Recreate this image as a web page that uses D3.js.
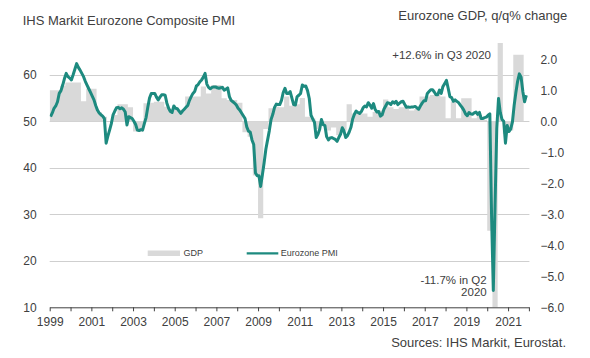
<!DOCTYPE html>
<html><head><meta charset="utf-8">
<script src="https://cdn.jsdelivr.net/npm/d3@7/dist/d3.min.js"></script>
<style>
body{margin:0;background:#fff}
svg{display:block}
text{font-family:Arial,"Liberation Sans",sans-serif;fill:#404040}
</style>
</head><body>
<svg id="chart" width="590" height="358"></svg>
<script>
// Eurozone Composite PMI, monthly, Jan 1999 .. Nov 2021
const pmiStartYear = 1999;
const pmi = [
  51.0, 51.8, 52.8, 53.3, 54.2, 56.0, 56.6, 57.8, 59.2, 60.3, 59.6, 59.3, // 1999
  58.9, 60.0, 61.2, 62.4, 61.6, 61.0, 60.3, 59.6, 58.6, 57.8, 57.0, 56.2, // 2000
  55.4, 54.6, 53.4, 52.4, 51.8, 51.4, 51.1, 50.6, 45.3, 46.8, 48.1, 49.5, // 2001
  51.4, 52.2, 52.9, 53.0, 52.7, 52.9, 52.6, 52.0, 49.2, 51.0, 50.8, 50.6, // 2002
  50.0, 49.3, 48.1, 48.0, 48.2, 48.1, 49.5, 50.8, 53.0, 55.0, 56.0, 56.0, // 2003
  56.0, 55.2, 54.6, 55.2, 55.7, 55.7, 55.6, 53.9, 52.8, 52.1, 51.9, 53.3, // 2004
  52.8, 52.7, 52.2, 51.7, 52.2, 52.6, 53.0, 53.4, 54.5, 55.3, 56.0, 56.4, // 2005
  57.6, 57.9, 58.5, 58.9, 59.5, 60.3, 58.0, 57.3, 57.0, 57.3, 57.4, 57.4, // 2006
  57.2, 57.1, 57.2, 57.3, 56.7, 56.9, 57.2, 55.3, 54.5, 54.2, 53.9, 53.5, // 2007
  52.8, 52.4, 51.8, 51.2, 50.6, 48.8, 47.9, 47.7, 46.0, 45.0, 38.9, 38.3, // 2008
  38.3, 36.0, 38.5, 41.1, 44.0, 46.0, 48.0, 50.4, 51.5, 53.0, 53.7, 53.6, // 2009
  53.6, 54.5, 56.2, 57.1, 56.0, 56.0, 56.4, 55.0, 53.6, 53.5, 55.3, 55.6, // 2010
  56.0, 57.8, 57.5, 57.6, 56.6, 54.9, 51.3, 50.5, 49.8, 46.5, 47.2, 48.3, // 2011
  50.4, 49.3, 49.1, 46.7, 46.0, 46.4, 46.5, 46.3, 46.1, 45.7, 46.5, 47.2, // 2012
  48.6, 47.9, 46.5, 46.9, 47.7, 48.7, 50.5, 51.5, 52.2, 51.9, 51.7, 52.1, // 2013
  52.9, 53.3, 53.1, 54.0, 53.5, 52.8, 53.8, 52.5, 52.0, 52.1, 51.1, 51.4, // 2014
  52.6, 53.3, 54.0, 53.9, 53.6, 54.2, 53.9, 54.3, 53.6, 53.9, 54.2, 54.3, // 2015
  53.6, 53.0, 53.1, 53.0, 53.1, 53.1, 53.2, 52.9, 52.6, 53.3, 53.9, 54.4, // 2016
  54.4, 56.0, 56.4, 56.8, 56.8, 56.3, 55.7, 55.7, 56.7, 56.0, 57.5, 58.1, // 2017
  58.8, 57.1, 55.3, 55.1, 54.3, 54.6, 54.3, 54.0, 53.5, 53.0, 52.4, 51.6, // 2018
  51.2, 51.9, 51.6, 51.5, 51.8, 52.0, 51.5, 51.9, 50.6, 50.6, 50.8, 50.9, // 2019
  51.3, 51.6, 29.7, 13.6, 31.9, 48.5, 54.9, 51.9, 50.4, 50.0, 45.3, 49.1, // 2020
  47.8, 48.3, 49.8, 53.4, 56.2, 58.6, 60.2, 59.5, 56.4, 54.2, 55.6        // 2021
];

// Eurozone GDP q/q % change, quarterly, Q1 1999 .. Q3 2021
const gdpStartYear = 1999;
const gdp = [
  1.0, 1.0, 1.15, 1.25,     // 1999
  1.25, 1.25, 0.65, 1.05,   // 2000
  1.05, 0.3, 0.15, 0.0,     // 2001
  0.2, 0.55, 0.55, 0.45,    // 2002
  -0.33, -0.33, 0.58, 0.6,  // 2003
  0.63, 0.63, 0.47, 0.37,   // 2004
  0.37, 0.37, 0.8, 0.8,     // 2005
  0.8, 1.12, 0.9, 1.17,     // 2006
  1.17, 0.74, 0.69, 0.69,   // 2007
  0.6, -0.35, -0.5, -1.75,  // 2008
  -3.13, -0.25, 0.42, 0.47, // 2009
  0.45, 0.8, 0.5, 0.55,     // 2010
  0.75, 0.15, 0.1, -0.25,   // 2011
  -0.15, -0.3, -0.2, -0.45, // 2012
  -0.3, 0.55, 0.25, 0.25,   // 2013
  0.25, 0.15, 0.3, 0.35,    // 2014
  0.7, 0.45, 0.4, 0.45,     // 2015
  0.5, 0.35, 0.4, 0.8,      // 2016
  0.8, 0.85, 0.85, 0.8,     // 2017
  0.1, 0.63, 0.1, 0.74,     // 2018
  0.74, 0.1, 0.2, 0.05,     // 2019
  -3.53, -11.7, 12.6, -0.4, // 2020
  -0.3, 2.15, 2.15          // 2021
];

const yearTicks = d3.range(1999, 2023);
const yearLabels = d3.range(1999, 2022, 2);
const leftTicks = [10, 20, 30, 40, 50, 60];
const rightTicks = [2, 1, 0, -1, -2, -3, -4, -5, -6];

const titleLeft = "IHS Markit Eurozone Composite PMI";
const titleRight = "Eurozone GDP, q/q% change";
const source = "Sources: IHS Markit, Eurostat.";
const noteHigh = "+12.6% in Q3 2020";
const noteLow = ["-11.7% in Q2", "2020"];
const legendLabels = ["GDP", "Eurozone PMI"];

const teal = "#1d8a7f", barGray = "#d9d9d9", gridGray = "#cfcfcf", ink = "#404040";

const svg = d3.select("#chart");
const X0 = 49.7, X1 = 528.9, YB = 307.3, YT = 28.3, CLIPTOP = 43;

const x = d3.scaleLinear().domain([1999, 2022]).range([X0, X1]);
const yL = d3.scaleLinear().domain([10, 70]).range([YB, YT]);
const yR = d3.scaleLinear().domain([-6, 3]).range([YB, YT]);

svg.append("defs").append("clipPath").attr("id", "plot")
  .append("rect").attr("x", X0).attr("y", CLIPTOP).attr("width", X1 - X0 + 1).attr("height", YB - CLIPTOP);

// gridlines
svg.append("g").selectAll("line").data(leftTicks.filter(d => d > 10)).join("line")
  .attr("x1", X0).attr("x2", X1 + 0.5)
  .attr("y1", d => Math.round(yL(d)) + 0.5).attr("y2", d => Math.round(yL(d)) + 0.5)
  .attr("stroke", gridGray).attr("stroke-width", 1);

// GDP bars as stepped area
const gdpPts = gdp.map((v, i) => ({t: gdpStartYear + i / 4, v}));
gdpPts.push({t: gdpStartYear + gdp.length / 4, v: gdp[gdp.length - 1]});
const area = d3.area().curve(d3.curveStepAfter)
  .x(d => x(d.t)).y0(yR(0)).y1(d => yR(d.v));
svg.append("path").attr("clip-path", "url(#plot)")
  .attr("d", area(gdpPts)).attr("fill", barGray);

// PMI line
const pmiPts = pmi.map((v, i) => ({t: pmiStartYear + (i + 0.5) / 12, v}));
const line = d3.line().x(d => x(d.t)).y(d => yL(d.v));
svg.append("path").attr("clip-path", "url(#plot)")
  .attr("d", line(pmiPts)).attr("fill", "none")
  .attr("stroke", teal).attr("stroke-width", 3).attr("stroke-linejoin", "round");

// x axis
const xAxis = d3.axisBottom(x).tickValues(yearTicks).tickSize(4).tickSizeOuter(0)
  .tickFormat(d => yearLabels.includes(d) ? String(d) : "");
const gx = svg.append("g").attr("transform", `translate(0,${YB})`).call(xAxis);
gx.select(".domain").attr("stroke", ink);
gx.selectAll(".tick line").attr("stroke", ink);
gx.selectAll(".tick text").attr("font-size", 12).attr("fill", ink)
  .attr("font-family", "Arial, 'Liberation Sans', sans-serif").attr("y", 10).attr("dy", "0.71em");

// left axis labels
const yAxisL = d3.axisLeft(yL).tickValues(leftTicks).tickSize(0).tickFormat(d3.format("d"));
const gl = svg.append("g").attr("transform", `translate(${X0},0)`).call(yAxisL);
gl.select(".domain").remove();
gl.selectAll(".tick text").attr("x", -13).attr("font-size", 12).attr("fill", ink)
  .attr("font-family", "Arial, 'Liberation Sans', sans-serif");

// right axis labels
const yAxisR = d3.axisRight(yR).tickValues(rightTicks).tickSize(0).tickFormat(d3.format(".1f"));
const gr = svg.append("g").attr("transform", `translate(${X1},0)`).call(yAxisR);
gr.select(".domain").remove();
gr.selectAll(".tick text").attr("x", 11.5).attr("font-size", 12).attr("fill", ink)
  .attr("font-family", "Arial, 'Liberation Sans', sans-serif");

// titles
svg.append("text").attr("x", 22.7).attr("y", 24.5).attr("font-size", 13).text(titleLeft);
svg.append("text").attr("x", 398.3).attr("y", 19.5).attr("font-size", 13).text(titleRight);
svg.append("text").attr("x", 566).attr("y", 346.5).attr("text-anchor", "end").attr("font-size", 13).text(source);

// annotations
svg.append("text").attr("x", 491).attr("y", 59.3).attr("text-anchor", "end").attr("font-size", 11.5).text(noteHigh);
svg.append("text").attr("x", 486.7).attr("y", 283.5).attr("text-anchor", "end").attr("font-size", 11.5).text(noteLow[0]);
svg.append("text").attr("x", 486.7).attr("y", 295.5).attr("text-anchor", "end").attr("font-size", 11.5).text(noteLow[1]);

// legend
const lg = svg.append("g");
lg.append("rect").attr("x", 147.7).attr("y", 250.5).attr("width", 32.3).attr("height", 5.5).attr("fill", barGray);
lg.append("text").attr("x", 183.5).attr("y", 256.3).attr("font-size", 9).text(legendLabels[0]);
lg.append("line").attr("x1", 246.7).attr("x2", 278.3).attr("y1", 253.3).attr("y2", 253.3)
  .attr("stroke", teal).attr("stroke-width", 2.2);
lg.append("text").attr("x", 280.8).attr("y", 256.3).attr("font-size", 9).text(legendLabels[1]);
</script>
</body></html>
